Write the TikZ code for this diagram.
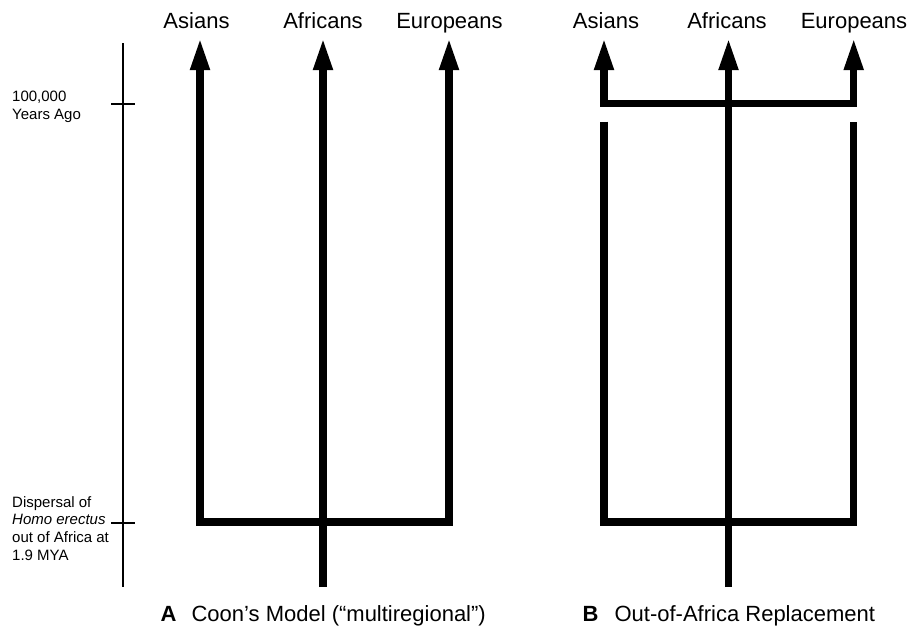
\documentclass[tikz,border=0pt]{standalone}
\usepackage{fontspec}
\setmainfont{Liberation Sans}
\usetikzlibrary{arrows.meta}
\begin{document}
\begin{tikzpicture}[x=1pt,y=-1pt,
  branch/.style={line width=7.3pt,line join=miter,line cap=butt},
  onehead/.style={-{Triangle[length=32pt,width=18pt]}},
  twoheads/.style={{Triangle[length=32pt,width=18pt]}-{Triangle[length=32pt,width=18pt]}},
  axisline/.style={line width=2pt},
  pop/.style={font=\fontsize{22}{26}\selectfont,anchor=base,inner sep=0pt},
  note/.style={font=\fontsize{15}{17.7}\selectfont,align=left,anchor=base west,inner sep=0pt},
  captext/.style={font=\fontsize{22}{26}\selectfont,anchor=base west,inner sep=0pt}]
\useasboundingbox (0,0) rectangle (910,629);
% time axis
\coordinate (axT) at (123,43);
\coordinate (axB) at (123,587);
\draw[axisline] (axT) -- (axB);
\coordinate (t1a) at (111,104); \coordinate (t1b) at (135,104);
\coordinate (t2a) at (111,523); \coordinate (t2b) at (135,523);
\draw[axisline] (t1a) -- (t1b);
\draw[axisline] (t2a) -- (t2b);
% multi-line nodes: base anchor is the baseline of the last line
\node[note] (n1) at (12,119.4) {100,000\\Years Ago};
\node[note] (n2) at (12,560.1) {Dispersal of\\\textit{Homo erectus}\\out of Africa at\\1.9 MYA};
% panel A
\coordinate (aAt) at (200,38); \coordinate (aAb) at (200,522);
\coordinate (aEt) at (449,38); \coordinate (aEb) at (449,522);
\coordinate (aFt) at (323,38); \coordinate (aFb) at (323,587);
\draw[branch,twoheads] (aAt) -- (aAb) -- (aEb) -- (aEt);
\draw[branch,onehead] (aFb) -- (aFt);
\node[pop] (la1) at (196.5,28) {Asians};
\node[pop] (la2) at (323,28) {Africans};
\node[pop] (la3) at (449.5,28) {Europeans};
% panel B
\coordinate (bAt) at (604,38); \coordinate (bAm) at (604,103.7);
\coordinate (bEt) at (853.7,38); \coordinate (bEm) at (853.7,103.7);
\coordinate (bAl) at (604,121.7); \coordinate (bAb) at (604,522);
\coordinate (bEl) at (853.7,121.7); \coordinate (bEb) at (853.7,522);
\coordinate (bFt) at (728.5,38); \coordinate (bFb) at (728.5,587);
\draw[branch,twoheads] (bAt) -- (bAm) -- (bEm) -- (bEt);
\draw[branch] (bAl) -- (bAb) -- (bEb) -- (bEl);
\draw[branch,onehead] (bFb) -- (bFt);
\node[pop] (lb1) at (606,28) {Asians};
\node[pop] (lb2) at (727,28) {Africans};
\node[pop] (lb3) at (854,28) {Europeans};
% captions
\node[captext] (ca) at (160.5,621.5) {\textbf{A}\hspace{15pt}Coon’s Model (“multiregional”)};
\node[captext] (cb) at (582.5,621.5) {\textbf{B}\hspace{16pt}Out-of-Africa Replacement};
\end{tikzpicture}
\end{document}
